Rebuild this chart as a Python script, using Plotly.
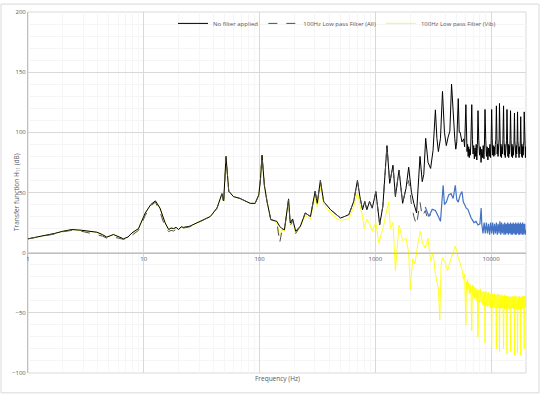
import plotly.graph_objects as go

# ---------------- data ----------------
nofilter_f = [1, 1.3, 1.7, 2.0, 2.4, 2.9, 3.56, 3.93, 4.4, 4.79, 5.47, 6.0, 6.68, 7.3, 7.9, 9.0, 10.3, 11.5, 12.6, 13.8,
              15.3, 16.4, 17.2, 18.1, 19, 20, 21, 22, 25, 30.6, 37.5, 42.9, 46, 47.3, 49, 51.3, 54.2, 59.5, 68, 83,
              91.6, 98.5, 102, 105, 110, 116, 125, 141, 149, 156, 164, 178, 184, 193, 205, 225, 248, 275, 302, 315,
              335, 358, 410, 468, 500, 540, 590, 650, 700, 735, 775, 810, 845, 890, 940, 1010, 1090, 1160, 1260, 1330,
              1420, 1490, 1600, 1720, 1840, 1940, 2050, 2150, 2270, 2430, 2540, 2620, 2720, 2850, 3000, 3150, 3300, 3400, 3500, 3650,
              3800, 3950, 4100, 4250, 4400, 4550, 4700, 4850, 4950, 5050, 5200, 5300, 5400, 5600, 5800, 5900,
              6050, 6120, 6190, 6260, 6330, 6400, 6470, 6540, 6610, 6680,
              6800, 6890, 6980, 7070, 7160, 7250, 7340, 7430, 7520, 7610,
              7700, 7820, 7940, 8060, 8180, 8300, 8420, 8540, 8660, 8760,
              8850, 8980, 9110, 9240, 9370, 9500, 9630, 9760, 9890, 10000,
              10100, 10210, 10320, 10430, 10540, 10650, 10760, 10870, 10980,
              11100, 11190, 11280, 11370, 11460, 11550, 11640, 11720,
              11800, 11920, 12040, 12160, 12280, 12400, 12520, 12640,
              12800, 12910, 13020, 13130, 13240, 13350, 13460, 13580,
              13700, 13820, 13940, 14060, 14180, 14300, 14420, 14560,
              14700, 14850, 15000, 15150, 15300, 15450, 15600, 15750,
              15900, 16020, 16140, 16260, 16380, 16500, 16620, 16760,
              16900, 17030, 17160, 17290, 17420, 17550, 17700, 17850,
              18000, 18150, 18300, 18450, 18600, 18750, 18900, 19050, 19180,
              19300, 19420, 19540, 19660, 19780, 19900, 20000]
nofilter_db = [11.5, 13.5, 16, 17.8, 19.2, 18.6, 17.3, 17, 15, 12.9, 15.1, 13.5, 11.5, 13, 16.4, 20, 33, 40, 43, 37,
               24.7, 19.2, 20.5, 20, 21, 19.2, 21.5, 21, 22, 26, 30, 37, 45, 49, 43, 80, 51, 46.6, 45, 41,
               41, 48, 62, 81, 56, 42.5, 27.5, 26, 22, 20, 19, 44.7, 24.7, 28, 17.8, 22, 33, 30, 51, 41,
               60, 42.5, 35.7, 31.6, 28.8, 30, 31.6, 42.5, 60, 46.6, 35.7, 42.5, 35.7, 42.5, 37, 50.7, 23.3, 38.4, 89, 57.6,
               72.7, 46.6, 68.6, 41, 53.5, 71, 50, 41, 33, 80, 59, 65, 95, 75, 70, 85, 118.7, 95, 84, 95,
               134, 100, 89, 96, 101, 140, 111, 95, 86, 92, 128, 100, 100, 92, 94.6, 88,
               123, 95, 84, 90, 80, 88, 79, 86, 81, 92,
               123, 94, 82, 89, 78, 87, 80, 90, 77, 90,
               118, 93, 81, 88, 75, 86, 79, 89, 78, 92,
               119, 94, 80, 88, 77, 87, 80, 90, 79, 93,
               119, 95, 81, 89, 80, 88, 81, 90, 94,
               122, 96, 82, 90, 80, 89, 82, 95,
               124, 95, 80, 90, 79, 88, 82, 94,
               122, 94, 81, 90, 79, 88, 82, 93,
               119, 94, 80, 90, 79, 89, 82, 93,
               118, 94, 80, 90, 79, 88, 81, 92,
               116, 93, 80, 90, 79, 89, 82, 93,
               117, 93, 80, 90, 79, 88, 82, 92,
               113, 93, 80, 90, 79, 88, 81, 89, 93,
               117, 94, 80, 90, 79, 88, 84]

all_f = [1, 1.3, 1.7, 2.0, 2.4, 2.9, 3.56, 3.93, 4.4, 4.79, 5.47, 6.0, 6.68, 7.3, 7.9, 9.0, 10.3, 11.5, 12.6, 13.8,
         15.3, 16.4, 17.2, 18.1, 19, 20, 21, 22, 25, 30.6, 37.5, 42.9, 46, 47.3, 49, 51.3, 54.2, 59.5, 68, 83,
         91.6, 98.5, 102, 105, 110, 116, 125, 141, 149, 156, 164, 178, 184, 193, 205, 225, 248, 275, 302, 315,
         335, 358, 410, 468, 500, 540, 590, 650, 700, 735, 775, 810, 845, 890, 940, 1010, 1090, 1160, 1260, 1330,
         1420, 1490, 1600, 1720, 1840, 1940, 2050, 2150, 2270, 2430, 2540, 2700, 2850, 3000]
all_db = [11.5, 13.2, 15.5, 17.3, 18.6, 17.8, 15.8, 15.3, 13.8, 12.0, 12.8, 12.2, 11, 12, 14.5, 18.5, 31, 39, 42, 34,
          21, 17.5, 18.5, 18, 19.5, 18.5, 20.5, 20.5, 21.5, 25.5, 30, 37, 45, 49, 40, 80, 51, 46.6, 45, 41,
          41, 48, 62, 81, 56, 42.5, 27.5, 26, 8, 18, 19, 44, 22, 27, 16, 22, 33, 30, 51, 41,
          60, 42.5, 35.7, 31.6, 28.8, 30, 31.6, 42.5, 60, 46.6, 35.7, 42.5, 35.7, 42.5, 37, 50.7, 23.3, 38.4, 89, 57.6,
          72.7, 46.6, 68.6, 41, 53.5, 60, 40, 30, 23, 42, 30, 35, 27, 32]

all_hf_f = [2700, 2900, 3100, 3300, 3500, 3650, 3850, 3950, 4100, 4300, 4500, 4700, 4900, 5050, 5200, 5400, 5600, 5750, 5900, 6100,
            6300, 6500, 6700, 6900, 7100, 7400, 7700, 8000, 8200, 8300, 8500, 8700, 8900, 9100, 9300, 9500, 9700, 9900, 10100, 10300,
            10500, 10700, 10900, 11100, 11300, 11500, 11700, 11900, 12100, 12300, 12500, 12700, 12900, 13100, 13300, 13500, 13700, 13900, 14100, 14300,
            14500, 14700, 14900, 15100, 15300, 15500, 15700, 15900, 16100, 16300, 16500, 16700, 16900, 17100, 17300, 17500, 17700, 17900, 18100, 18300,
            18500, 18700, 18900, 19100, 19300, 19500, 19700, 20000]
all_hf_db = [38, 30, 36, 35, 30, 26, 56, 40, 42, 48, 49, 45, 56, 44, 42, 48, 50.7, 42, 40, 37,
             36, 32, 29, 27, 25, 26, 23, 24, 37, 24, 16, 25, 16, 25, 16, 24, 15, 25, 16, 25,
             15, 24, 16, 25, 15, 24, 16, 26, 15, 25, 16, 24, 15, 25, 15, 24, 16, 25, 15, 24,
             16, 25, 15, 24, 15, 25, 16, 24, 15, 25, 15, 24, 16, 25, 15, 24, 15, 25, 16, 24,
             15, 25, 15, 24, 16, 24, 15, 19]

vib_f = [1, 1.3, 1.7, 2.0, 2.4, 2.9, 3.56, 3.93, 4.4, 4.79, 5.47, 6.0, 6.68, 7.3, 7.9, 9.0, 10.3, 11.5, 12.6, 13.8,
         15.3, 16.4, 17.2, 18.1, 19, 20, 21, 22, 25, 30.6, 37.5, 42.9, 46, 47.3, 49, 51.3, 54.2, 59.5, 68, 83,
         91.6, 98.5, 102, 105, 110, 116, 125, 141, 149, 156, 164, 178, 184, 193, 205, 225, 248, 275, 302, 315,
         335, 358, 410, 468, 500, 590, 650, 700, 735, 775, 800, 845, 890, 940, 1010, 1070, 1160, 1260, 1300, 1350,
         1420, 1490, 1600, 1720, 1840, 1940, 2000, 2100, 2200, 2350, 2450, 2550, 2700, 2850, 3000, 3150, 3300, 3500, 3600, 3700,
         3800, 4000, 4200, 4500, 4900, 5200, 5600, 5750, 5900,
         6050, 6120, 6190, 6260, 6330, 6400, 6470, 6540, 6610, 6680,
         6800, 6890, 6980, 7070, 7160, 7250, 7340, 7430, 7520, 7610,
         7700, 7820, 7940, 8060, 8180, 8300, 8420, 8540, 8660, 8760,
         8850, 8980, 9110, 9240, 9370, 9500, 9630, 9760, 9890, 10000,
         10100, 10210, 10320, 10430, 10540, 10650, 10760, 10870, 10980,
         11100, 11190, 11280, 11370, 11460, 11550, 11640, 11720,
         11800, 11920, 12040, 12160, 12280, 12400, 12520, 12640,
         12800, 12910, 13020, 13130, 13240, 13350, 13460, 13580,
         13700, 13820, 13940, 14060, 14180, 14300, 14420, 14560,
         14700, 14850, 15000, 15150, 15300, 15450, 15600, 15750,
         15900, 16020, 16140, 16260, 16380, 16500, 16620, 16760,
         16900, 17030, 17160, 17290, 17420, 17550, 17700, 17850,
         18000, 18150, 18300, 18450, 18600, 18750, 18900, 19050, 19180,
         19300, 19420, 19540, 19660, 19780, 19900, 20000]
vib_db = [11.5, 13.5, 16, 17.8, 19.2, 18.6, 17.3, 17, 15, 12.9, 15.1, 13.5, 11.5, 13, 16.4, 20, 33, 40, 43, 37,
          24.7, 19.2, 20.5, 20, 21, 19.2, 21.5, 21, 22, 26, 30, 37, 45, 49, 43, 80, 51, 46.6, 45, 41,
          41, 48, 62, 81, 56, 42.5, 27.5, 25, 14, 19, 18, 44, 23, 27, 16, 21, 31, 28, 47, 38,
          55, 40, 33, 28, 27, 28, 38, 50, 40, 30, 20, 28, 24, 18, 25, 8, 20, 35, 42, 20,
          25, -15, 23, 10, 12, 0, -31, -5, -9, 10, 18, 8, 4, 12, -7, 0, -18, -30, -56, -10,
          -4, -8, -15, -5, 5.5, -4, -14, -22, -18,
          -60, -24, -32, -22, -30, -25, -34, -26, -33, -28,
          -65, -27, -36, -28, -38, -29, -37, -30, -40, -31,
          -70, -31, -42, -30, -41, -33, -43, -32, -44, -33,
          -75, -32, -44, -33, -45, -33, -44, -34, -46, -34,
          -78, -34, -46, -35, -45, -34, -46, -35, -44,
          -80, -35, -46, -34, -45, -36, -46, -35,
          -82, -35, -46, -36, -47, -35, -46, -36,
          -80, -36, -47, -35, -46, -36, -47, -36,
          -84, -36, -47, -37, -46, -36, -47, -37,
          -82, -37, -47, -36, -46, -37, -47, -36,
          -85, -37, -47, -36, -46, -37, -47, -36,
          -83, -38, -47, -37, -46, -36, -47, -37,
          -85, -37, -47, -36, -46, -37, -47, -36, -45,
          -80, -36, -46, -37, -45, -36, -40]

x_ticks = [1, 10, 100, 1000, 10000]
x_tick_labels = ["1", "10", "100", "1000", "10000"]
y_ticks = [-100, -50, 0, 50, 100, 150, 200]

series_names = ["No filter applied", "100Hz Low pass Filter (All)", "100Hz Low pass Filter (Vib)"]

# ---------------- figure ----------------
FONT = "Open Sans"
TXT = "#595959"

fig = go.Figure()
fig.add_trace(go.Scatter(x=vib_f, y=vib_db, mode="lines", name=series_names[2], legendrank=3,
                         line=dict(color="rgba(255,255,0,0.85)", width=1)))
fig.add_trace(go.Scatter(x=nofilter_f, y=nofilter_db, mode="lines", name=series_names[0], legendrank=1,
                         line=dict(color="#000000", width=1)))
fig.add_trace(go.Scatter(x=all_f, y=all_db, mode="lines", name=series_names[1], legendrank=2,
                         line=dict(color="#505050", width=1, dash="dash")))
fig.add_trace(go.Scatter(x=all_hf_f, y=all_hf_db, mode="lines", showlegend=False,
                         line=dict(color="#4472C4", width=1.2)))

L, R, T, B = 28, 14, 9, 21
W, H = 540, 394
pw, ph = W - L - R, H - T - B

def px_x(px):
    return (px - L) / pw

def px_y(py):
    return (H - B - py) / ph

fig.update_layout(
    width=W, height=H,
    margin=dict(l=L, r=R, t=T, b=B),
    paper_bgcolor="white", plot_bgcolor="white",
    font=dict(family=FONT, size=6, color=TXT),
    showlegend=True,
    legend=dict(orientation="h", x=px_x(501), xanchor="right", y=px_y(20.5), yanchor="middle",
                font=dict(size=6, color=TXT), bgcolor="rgba(0,0,0,0)", itemwidth=30, tracegroupgap=0),
    xaxis=dict(type="log", range=[0, 4.301], tickvals=x_ticks, ticktext=x_tick_labels,
               anchor="free", position=1/3, showline=True, linecolor="#bfbfbf", linewidth=1,
               showgrid=True, gridcolor="#d9d9d9", gridwidth=1, ticks="",
               tickfont=dict(size=6, color=TXT),
               minor=dict(dtick="D1", showgrid=True, gridcolor="#f6f6f6", ticks="")),
    yaxis=dict(range=[-100, 200], tickvals=y_ticks, showline=True, linecolor="#bfbfbf", linewidth=1,
               showgrid=True, gridcolor="#d9d9d9", gridwidth=1, zeroline=False, ticks="",
               tickfont=dict(size=6, color=TXT),
               minor=dict(dtick=10, showgrid=True, gridcolor="#f5f5f5", ticks="")),
    annotations=[
        dict(text="Transfer function H<sub>11</sub> (dB)", xref="paper", yref="paper",
             x=px_x(10), y=0.5, textangle=-90, showarrow=False, font=dict(size=6.5, color=TXT)),
        dict(text="Frequency (Hz)", xref="paper", yref="paper",
             x=px_x(277), y=px_y(385), showarrow=False, font=dict(size=6.5, color=TXT)),
    ],
    shapes=[
        dict(type="rect", xref="paper", yref="paper", x0=0, x1=1, y0=0, y1=1,
             line=dict(color="#d9d9d9", width=1), layer="below"),
        dict(type="rect", xref="paper", yref="paper", x0=px_x(1), x1=px_x(539), y0=px_y(393), y1=px_y(1),
             line=dict(color="#d9d9d9", width=1)),
    ],
)

fig.write_html("out.html", config={"displayModeBar": False},
               post_script="document.body.style.margin='0';document.body.style.overflow='hidden';")
